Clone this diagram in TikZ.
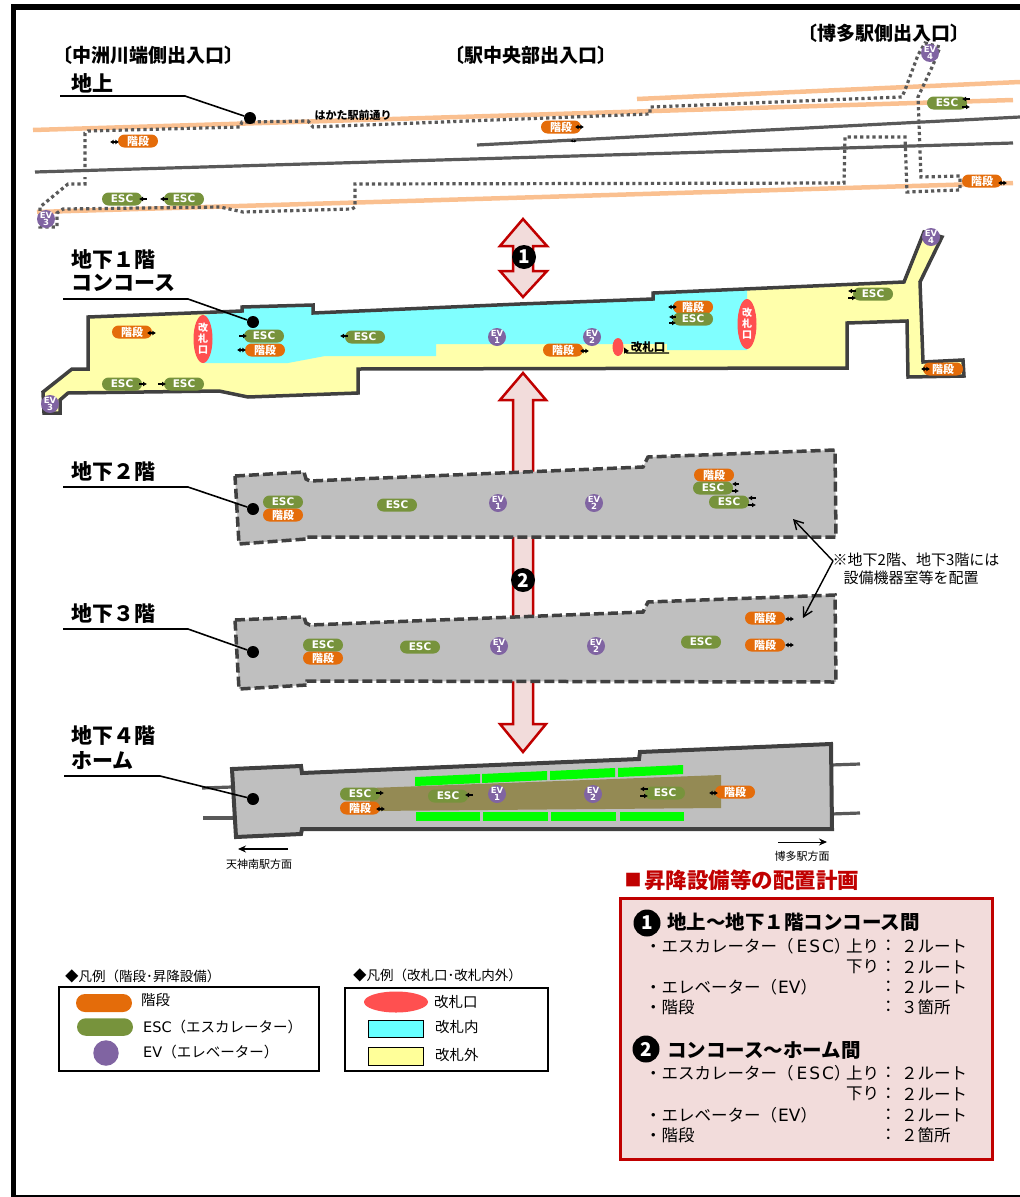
\documentclass[tikz,border=0pt]{standalone}
\usepackage{fontspec}
\setmainfont{Noto Sans CJK JP}
\newfontfamily\lat{DejaVu Sans}
\usetikzlibrary{arrows.meta,calc,shapes.geometric}
\definecolor{orangeP}{HTML}{E46C0A}
\definecolor{greenP}{HTML}{77933C}
\definecolor{purpleP}{HTML}{8064A2}
\definecolor{dk}{HTML}{404040}
\definecolor{rd}{HTML}{595959}
\definecolor{sand}{HTML}{FAC090}
\definecolor{rfill}{HTML}{F2DCDB}
\definecolor{rline}{HTML}{C00000}
\definecolor{yel}{HTML}{FFFFAB}
\definecolor{cyn}{HTML}{80FFFF}
\definecolor{gate}{HTML}{FF5050}
\definecolor{floorg}{HTML}{BFBFBF}
\definecolor{olive}{HTML}{948A54}
\definecolor{lgcyan}{HTML}{66FFFF}
\definecolor{lgyel}{HTML}{FFFF99}
\newcommand{\fs}[1]{\fontsize{#1}{#1}\selectfont}
\newcommand{\ESCw}{{\lat\fs{17}E\kern2pt S\kern2pt C}}
\newcommand{\EVw}{{\lat\fs{17}EV}}
\newcounter{tn}
\newcommand{\T}[4]{\stepcounter{tn}\node[lab,font=\fs{#3}] (t\arabic{tn}) at (#1,#2) {#4};}
\newcommand{\TB}[4]{\stepcounter{tn}\node[lab,font=\fs{#3}\bfseries] (t\arabic{tn}) at (#1,#2) {#4};}
\newcommand{\arD}[5]{\draw[sma,{Latex[length=3.6pt,width=5pt]}-{Latex[length=3.6pt,width=5pt]}] ([shift={(#2,#3)}]#1.center) -- ++(#4,0);}
\newcommand{\arR}[4]{\draw[sma,-{Latex[length=4pt,width=5pt]}] ([shift={(#2,#3)}]#1.center) -- ++(#4,0);}
\newcommand{\arL}[4]{\draw[sma,{Latex[length=4pt,width=5pt]}-] ([shift={(#2,#3)}]#1.center) -- ++(#4,0);}
\tikzset{
 lab/.style={inner sep=0pt,anchor=west,text=black},
 sma/.style={line width=1.3pt,black},
 pill/.style={rounded corners=6.5pt,minimum width=40pt,minimum height=13pt,inner sep=0pt,text=white},
 stair/.style={pill,fill=orangeP,font=\fs{11}\bfseries},
 escp/.style={pill,fill=greenP,font=\lat\fs{10.5}\bfseries},
 evn/.style={circle,fill=purpleP,minimum size=18pt,inner sep=0pt,text=white,font=\lat\fs{8.5}\bfseries,align=center},
 gatee/.style={ellipse,fill=gate,inner sep=0pt,text=white,font=\fs{10}\bfseries,align=center},
 dot/.style={circle,fill=black,inner sep=0pt,minimum size=12pt},
 lead/.style={line width=1.6pt,black},
 orangeroad/.style={sand,line width=4.5pt},
 road/.style={rd,line width=3.2pt},
 dots/.style={rd,line width=3.2pt,dash pattern=on 3.2pt off 3pt},
 wall/.style={dk,line width=3.5pt,line join=miter},
 dwall/.style={dk,line width=3.5pt,dash pattern=on 10pt off 4pt,fill=floorg},
 bigarrow/.style={rline,line width=2.5pt,fill=rfill,line join=miter},
 numc/.style={circle,fill=black,inner sep=0pt,text=white,font=\fs{19}\bfseries},
 grn/.style={fill=green},
 thinarrow/.style={line width=1.3pt,black,-{Stealth[length=8pt,width=7pt]}},
 note/.style={line width=1.4pt,black,-{Straight Barb[length=9pt,width=10pt]}},
 heading/.style={inner sep=0pt,font=\fs{19}\bfseries,text=black},
}
\begin{document}
\begin{tikzpicture}[x=1pt,y=-1pt]
\useasboundingbox (0,0) rectangle (1020,1197);
% page frame
\draw[black,line width=5.5pt,line cap=butt] (13.5,1197) -- (13.5,7) -- (1020,7);
\draw[black,line width=2pt] (13,1196) -- (1020,1196);
% ground level
\draw[orangeroad] (33,130) -- (1013,100);
\draw[orangeroad] (637,99) -- (1020,82);
\draw[orangeroad] (37,212) -- (1013,183);
\draw[road] (477,145) -- (1020,117);
\draw[road] (35,172) -- (1013,143);
\draw[dots] (85,167) -- (85,133) -- (88,131) -- (240,127) -- (242,122) -- (308,121) -- (313,127) -- (650,114) -- (650,107) -- (902,97) -- (905,90) -- (918,55) -- (925,43) -- (940,47) -- (933,65) -- (918,97) -- (921,177) -- (960,176) -- (960,190) -- (907,192) -- (905,137) -- (845,137) -- (844,183) -- (355,184) -- (355,207) -- (352,209) -- (243,212) -- (220,207) -- (63,209) -- (57,213) -- (57,227) -- (40,227) -- (40,207) -- (68,184) -- (85,184) -- (85,177);
\node[heading] (h1) at (148,55) {〔中洲川端側出入口〕};
\node[heading] (h2) at (531,55) {〔駅中央部出入口〕};
\node[heading] (h3) at (884,33) {〔博多駅側出入口〕};
\node[inner sep=0pt,font=\fs{11}\bfseries] (hk) at (353,115) {はかた駅前通り};
\node[stair] (s1) at (138,141) {階段}; \arD{s1}{-28}{1}{9}{}
\node[stair] (s2) at (561,127) {階段}; \arD{s2}{14}{0}{9}{}
\draw[line width=.7pt,black,{Latex[length=3pt,width=3pt]}-{Latex[length=3pt,width=3pt]}] ([shift={(9,14)}]s2.center) -- ++(7,0);
\node[stair] (s3) at (982,181) {階段}; \arD{s3}{16}{2}{9}{}
\node[escp] (e1) at (122,199) {ESC}; \arL{e1}{17}{0}{8}
\node[escp] (e2) at (184,199) {ESC}; \arL{e2}{-24}{0}{8}
\node[escp] (e3) at (947,103) {ESC}; \arL{e3}{15}{-4}{8} \arR{e3}{15}{4}{8}
\node[evn] (ev3a) at (46,219) {EV\\[-2pt]3};
\node[evn] (ev4a) at (930,53) {EV\\[-2pt]4};
% big arrows (behind the floors)
\draw[bigarrow] (523,219) -- (547,246) -- (533,246) -- (533,271) -- (547,271) -- (523,297) -- (500,271) -- (513,271) -- (513,246) -- (500,246) -- cycle;
\draw[bigarrow] (523,373) -- (546,400) -- (533,400) -- (533,724) -- (546,724) -- (523,752) -- (500,724) -- (513,724) -- (513,400) -- (500,400) -- cycle;
% B1 concourse
\fill[yel] (88,317) -- (242,311) -- (242,307) -- (313,305) -- (313,313) -- (520,304) -- (653,299) -- (653,293) -- (904,282) -- (924,232) -- (942,237) -- (920,282) -- (923,362) -- (963,360) -- (964,376) -- (908,377) -- (907,321) -- (847,323) -- (847,368) -- (358,369) -- (358,393) -- (248,397) -- (219,391) -- (68,393) -- (60,400) -- (60,413) -- (44,413) -- (43,392) -- (72,369) -- (88,369) -- cycle;
\fill[cyn] (203,315) -- (242,311) -- (242,307) -- (313,305) -- (313,313) -- (520,304) -- (653,299) -- (653,293) -- (747,289) -- (747,350) -- (667,350) -- (620,344) -- (436,344) -- (436,356) -- (325,356) -- (288,363) -- (203,363) -- cycle;
\fill[yel] (620,344) rectangle (667,353);
\draw[wall] (88,317) -- (242,311) -- (242,307) -- (313,305) -- (313,313) -- (520,304) -- (653,299) -- (653,293) -- (904,282) -- (924,232) -- (942,237) -- (920,282) -- (923,362) -- (963,360) -- (964,376) -- (908,377) -- (907,321) -- (847,323) -- (847,368) -- (358,369) -- (358,393) -- (248,397) -- (219,391) -- (68,393) -- (60,400) -- (60,413) -- (44,413) -- (43,392) -- (72,369) -- (88,369) -- cycle;
\node[gatee,minimum width=19pt,minimum height=48pt] (g1) at (203,339) {改\\[1pt]札\\[1pt]口};
\node[gatee,minimum width=19pt,minimum height=50pt] (g2) at (747,324) {改\\[1pt]札\\[1pt]口};
\node[gatee,minimum width=11pt,minimum height=18pt] (g3) at (618,347) {};
\node[stair] (s4) at (132,332) {階段}; \arD{s4}{15}{1}{9}{}
\node[escp] (e4) at (264,336) {ESC}; \arR{e4}{-25}{0}{8}
\node[stair] (s5) at (265,350) {階段}; \arD{s5}{-28}{0}{9}{}
\node[escp] (e5) at (365,337) {ESC}; \arL{e5}{-25}{-1}{8}
\node[stair] (s6) at (563,350) {階段}; \arD{s6}{17}{1}{9}{}
\node[stair] (s7) at (693,307) {階段}; \arD{s7}{-25}{0}{9}{}
\node[escp] (e6) at (693,319) {ESC}; \arL{e6}{-24}{-2}{7} \arR{e6}{-24}{4}{7}
\node[escp] (e7) at (873,294) {ESC}; \arL{e7}{-25}{-3}{8} \arR{e7}{-25}{4}{8}
\node[stair] (s8) at (943,369) {階段}; \arD{s8}{-22}{0}{9}{}
\node[escp] (e8) at (122,384) {ESC}; \arR{e8}{17}{0}{8}
\node[escp] (e9) at (184,384) {ESC}; \arR{e9}{-26}{0}{8}
\node[evn] (ev1a) at (497,337) {EV\\[-2pt]1};
\node[evn] (ev2a) at (592,337) {EV\\[-2pt]2};
\node[evn] (ev3b) at (50,404) {EV\\[-2pt]3};
\node[evn] (ev4b) at (931,237) {EV\\[-2pt]4};
\node[inner sep=0pt,font=\fs{11.5}\bfseries] (gl) at (648,347) {改札口};
\coordinate (glu) at (669,353);
\coordinate (glm) at (627,353);
\draw[line width=1.4pt,black,-{Latex[length=6pt,width=6pt]}] (glu) -- (glm) -- (g3.east);
% B2
\draw[dwall] (235,476) -- (304,472) -- (306,479) -- (310,481) -- (643,467) -- (648,457) -- (835,450) -- (836,537) -- (306,537) -- (306,539) -- (239,544) -- cycle;
\node[stair] (s9) at (714,475) {階段};
\node[escp] (e10) at (713,488) {ESC}; \arL{e10}{19}{-4}{7} \arR{e10}{19}{3}{7}
\node[escp] (e11) at (729,502) {ESC}; \arL{e11}{19}{-4}{8} \arR{e11}{19}{3}{8}
\node[escp] (e12) at (283,502) {ESC};
\node[stair] (s10) at (283,515) {階段};
\node[escp] (e13) at (397,505) {ESC};
\node[evn] (ev1c) at (498,503) {EV\\[-2pt]1};
\node[evn] (ev2c) at (594,503) {EV\\[-2pt]2};
% B3
\draw[dwall] (235,620) -- (304,617) -- (306,623) -- (310,625) -- (643,612) -- (648,602) -- (835,595) -- (836,682) -- (307,681) -- (307,685) -- (239,689) -- cycle;
\node[escp] (e14) at (323,645) {ESC};
\node[stair] (s11) at (323,658) {階段};
\node[escp] (e15) at (420,647) {ESC};
\node[escp] (e16) at (701,642) {ESC};
\node[stair] (s12) at (765,618) {階段}; \arD{s12}{20}{1}{9}{}
\node[stair] (s13) at (765,645) {階段}; \arD{s13}{20}{0}{9}{}
\node[evn] (ev1d) at (499,646) {EV\\[-2pt]1};
\node[evn] (ev2d) at (596,646) {EV\\[-2pt]2};
% number circles
\node[numc,minimum size=24pt] (n1) at (524,257) {1};
\node[numc,minimum size=24pt] (n2) at (523,580) {2};
% B4 platform
\draw[road] (202,788) -- (232,787);
\draw[road] (203,818) -- (234,818);
\draw[road] (831,765) -- (860,764);
\draw[road] (831,814) -- (860,813);
\draw[dk,line width=4pt,fill=floorg,line join=miter] (232,769) -- (301,766) -- (302,773) -- (639,759) -- (640,752) -- (831,744) -- (832,829) -- (302,829) -- (301,834) -- (236,837) -- cycle;
\fill[olive] (370,788) -- (721,775) -- (721,808) -- (370,811) -- cycle;
\fill[grn] (415,777) -- (480,774) -- (480,783) -- (415,786) -- cycle;
\fill[grn] (482,774) -- (547,771) -- (547,780) -- (482,783) -- cycle;
\fill[grn] (550,771) -- (615,768) -- (615,777) -- (550,780) -- cycle;
\fill[grn] (618,768) -- (683,765) -- (683,774) -- (618,777) -- cycle;
\fill[grn] (416,812) rectangle (480,821);
\fill[grn] (483,812) rectangle (548,821);
\fill[grn] (551,812) rectangle (616,821);
\fill[grn] (620,812) rectangle (684,821);
\node[escp] (e17) at (360,794) {ESC}; \arR{e17}{16}{-1}{8}
\node[stair] (s14) at (360,808) {階段}; \arD{s14}{16}{1}{9}{}
\node[escp] (e18) at (448,796) {ESC}; \arL{e18}{17}{-1}{8}
\node[escp] (e19) at (665,793) {ESC}; \arL{e19}{-25}{-4}{8} \arR{e19}{-25}{3}{8}
\node[stair] (s15) at (735,792) {階段}; \arD{s15}{-26}{1}{9}{}
\node[evn] (ev1e) at (497,794) {EV\\[-2pt]1};
\node[evn] (ev2e) at (593,794) {EV\\[-2pt]2};
% floor labels and leaders
\TB{71}{83}{21}{地上}
\TB{71}{260}{21}{地下１階}
\TB{71}{283}{21}{コンコース}
\TB{71}{472}{21}{地下２階}
\TB{71}{614}{21}{地下３階}
\TB{71}{736}{21}{地下４階}
\TB{71}{761}{21}{ホーム}
\node[dot] (d0) at (250,118) {};
\coordinate (l0a) at (60,96); \coordinate (l0b) at (185,96);
\draw[lead] (l0a) -- (l0b) -- (d0);
\node[dot] (d1) at (253,322) {};
\coordinate (l1a) at (63,299); \coordinate (l1b) at (188,299);
\draw[lead] (l1a) -- (l1b) -- (d1);
\node[dot] (d2) at (253,509) {};
\coordinate (l2a) at (63,487); \coordinate (l2b) at (188,487);
\draw[lead] (l2a) -- (l2b) -- (d2);
\node[dot] (d3) at (253,652) {};
\coordinate (l3a) at (63,629); \coordinate (l3b) at (188,629);
\draw[lead] (l3a) -- (l3b) -- (d3);
\node[dot] (d4) at (253,799) {};
\coordinate (l4a) at (64,776); \coordinate (l4b) at (160,776);
\draw[lead] (l4a) -- (l4b) -- (d4);
% note
\node[inner sep=0pt,font=\fs{15}] (noteA) at (916,560) {※地下2階、地下3階には};
\node[inner sep=0pt,font=\fs{15}] (noteB) at (911,578) {設備機器室等を配置};
\coordinate (nf) at (833,561);
\coordinate (nu) at (793,519);
\coordinate (nd) at (803,618);
\draw[note] (nf) -- (nu);
\draw[note] (nf) -- (nd);
% direction arrows
\coordinate (da) at (288,849); \coordinate (db) at (238,849);
\draw[thinarrow] (da) -- (db);
\coordinate (dc) at (778,842); \coordinate (dd) at (827,842);
\draw[thinarrow,line width=1pt] (dc) -- (dd);
\node[inner sep=0pt,font=\fs{11}] (dl1) at (259,864) {天神南駅方面};
\node[inner sep=0pt,font=\fs{11}] (dl2) at (802,856) {博多駅方面};
% plan panel
\node[inner sep=0pt,font=\fs{17}\bfseries,text=rline] (sq) at (633,880) {■};
\node[inner sep=0pt,font=\fs{21.5}\bfseries,text=rline,anchor=west] (title) at (644,880) {昇降設備等の配置計画};
\draw[rline,line width=3pt,fill=rfill] (620,898) rectangle (992,1159);
\node[numc,minimum size=27pt] (c1) at (647,923) {1};
\TB{667}{922}{19.5}{地上～地下１階コンコース間}
\node[numc,minimum size=27pt] (c2) at (646,1049) {2};
\TB{667}{1050}{19.5}{コンコース～ホーム間}
\T{645}{946}{16.5}{・エスカレーター（\kern3pt\ESCw）}
\T{846}{946}{16.5}{上り}
\T{880}{946}{16.5}{：}
\T{901}{946}{16.5}{２ルート}
\T{846}{967}{16.5}{下り}
\T{880}{967}{16.5}{：}
\T{901}{967}{16.5}{２ルート}
\T{645}{987}{16.5}{・エレベーター（\kern1pt\EVw）}
\T{880}{987}{16.5}{：}
\T{901}{987}{16.5}{２ルート}
\T{645}{1007}{16.5}{・階段}
\T{880}{1007}{16.5}{：}
\T{901}{1007}{16.5}{３箇所}
\T{645}{1073}{16.5}{・エスカレーター（\kern3pt\ESCw）}
\T{846}{1073}{16.5}{上り}
\T{880}{1073}{16.5}{：}
\T{901}{1073}{16.5}{２ルート}
\T{846}{1094}{16.5}{下り}
\T{880}{1094}{16.5}{：}
\T{901}{1094}{16.5}{２ルート}
\T{645}{1115}{16.5}{・エレベーター（\kern1pt\EVw）}
\T{880}{1115}{16.5}{：}
\T{901}{1115}{16.5}{２ルート}
\T{645}{1135}{16.5}{・階段}
\T{880}{1135}{16.5}{：}
\T{901}{1135}{16.5}{２箇所}
% legends
\T{65}{976}{13.5}{◆凡例（階段･昇降設備）}
\draw[black,line width=1.5pt] (59,987) rectangle (319,1071);
\node[fill=orangeP,rounded corners=9pt,minimum width=56pt,minimum height=18pt,inner sep=0pt] (lg1) at (104,1003) {};
\node[fill=greenP,rounded corners=8.75pt,minimum width=56pt,minimum height=17.5pt,inner sep=0pt] (lg2) at (105,1027) {};
\node[circle,fill=purpleP,minimum size=25.5pt,inner sep=0pt] (lg3) at (106,1053) {};
\T{141}{1000}{14.5}{階段}
\T{143}{1027}{14.5}{{\lat ESC}（エスカレーター）}
\T{143}{1052}{14.5}{{\lat EV}（エレベーター）}
\T{353}{975}{13.5}{◆凡例（改札口･改札内外）}
\draw[black,line width=1.5pt] (345,988) rectangle (548,1071);
\node[ellipse,fill=gate,minimum width=64pt,minimum height=21pt,inner sep=0pt] (lg4) at (396,1002) {};
\draw[black,line width=1pt,fill=lgcyan] (368,1020) rectangle (423,1037);
\draw[black,line width=1pt,fill=lgyel] (368,1047) rectangle (423,1065);
\T{434}{1002}{14.5}{改札口}
\T{435}{1027}{14.5}{改札内}
\T{435}{1055}{14.5}{改札外}
\end{tikzpicture}
\end{document}
